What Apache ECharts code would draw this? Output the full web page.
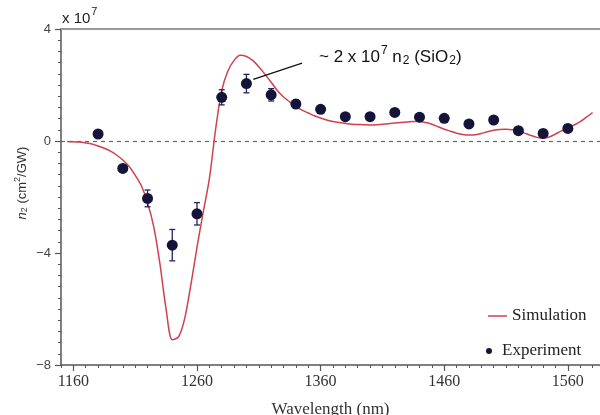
<!DOCTYPE html>
<html>
<head>
<meta charset="utf-8">
<script src="https://cdn.jsdelivr.net/npm/echarts@6/dist/echarts.min.js"></script>
<style>
html,body{margin:0;padding:0;background:#fff;}
#chart{width:600px;height:415px;}
</style>
</head>
<body>
<div id="chart"></div>
<script>
// ---- data ----
var simWavelength = [1155,1160,1165,1170,1175,1180,1185,1190,1195,1200,1205,1210,1215,1220,1225,1230,1235,1240,1245,1250,1255,1260,1265,1270,1275,1280,1285,1290,1295,1300,1305,1310,1315,1320,1325,1330,1335,1340,1345,1350,1355,1360,1365,1370,1375,1380,1385,1390,1395,1400,1405,1410,1415,1420,1425,1430,1435,1440,1445,1450,1455,1460,1465,1470,1475,1480,1485,1490,1495,1500,1505,1510,1515,1520,1525,1530,1535,1540,1545,1550,1555,1560,1565,1570,1575,1580];
var simN2 = [-0.02,-0.03,-0.04,-0.07,-0.11,-0.18,-0.26,-0.36,-0.5,-0.68,-0.9,-1.22,-1.6,-2.2,-3.06,-4.38,-6.0,-7.1,-7.0,-6.35,-5.15,-3.8,-2.55,-1.35,0.4,1.8,2.5,2.88,3.06,3.02,2.88,2.65,2.38,2.1,1.8,1.57,1.4,1.24,1.1,1.0,0.9,0.82,0.75,0.7,0.66,0.63,0.6,0.59,0.58,0.57,0.58,0.6,0.62,0.64,0.66,0.68,0.7,0.7,0.66,0.6,0.51,0.42,0.35,0.28,0.23,0.21,0.22,0.27,0.33,0.38,0.41,0.42,0.4,0.35,0.28,0.2,0.13,0.1,0.14,0.25,0.36,0.46,0.57,0.69,0.85,1.01];
var expWavelength = [1180,1200,1220,1240,1260,1280,1300,1320,1340,1360,1380,1400,1420,1440,1460,1480,1500,1520,1540,1560];
var expN2 = [0.25,-0.98,-2.05,-3.72,-2.6,1.56,2.05,1.65,1.32,1.13,0.87,0.87,1.02,0.85,0.81,0.61,0.75,0.37,0.27,0.45];
var expErr = [0,0,0.3,0.56,0.4,0.27,0.33,0.22,0.15,0,0,0,0,0,0,0,0,0,0,0];
var xTickLabels = [1160,1260,1360,1460,1560];
var yTickLabels = [-8,-4,0,4];

var X_MIN = 1150, X_MAX = 1586;

var simData = simWavelength.map(function(x,i){return [x, simN2[i]];});
var expData = expWavelength.map(function(x,i){return [x, expN2[i]];});
var errData = [];
expWavelength.forEach(function(x,i){ if(expErr[i]>0) errData.push([x, expN2[i]-expErr[i], expN2[i]+expErr[i]]); });

var chart = echarts.init(document.getElementById('chart'), null, {renderer:'canvas'});
var axisCol = '#555';
var serif = '"Liberation Serif","Times New Roman",serif';
var sans = '"Liberation Sans",Arial,sans-serif';

var option = {
  animation: false,
  backgroundColor: '#fff',
  grid: {left: 61, right: 0, top: 29, bottom: 50, outerBoundsMode: 'none', containLabel: false},
  xAxis: [
    {
      type: 'value', min: X_MIN, max: X_MAX, position: 'bottom',
      axisLine: {show: true, onZero: false, lineStyle: {color: axisCol, width: 1.5}},
      axisTick: {show: true, customValues: xTickLabels, length: 6, lineStyle: {color: axisCol, width: 1.2}},
      axisLabel: {customValues: xTickLabels, fontFamily: serif, fontSize: 16, color: '#333', margin: 9,
        formatter: function(v){ return String(v); }},
      splitLine: {show: false},
      name: 'Wavelength (nm)', nameLocation: 'middle', nameGap: 36,
      nameTextStyle: {fontFamily: serif, fontSize: 17, color: '#333'}
    },
    {
      type: 'value', min: X_MIN, max: X_MAX, interval: 10, position: 'bottom',
      axisLine: {show: false, onZero: false},
      axisTick: {show: true, length: 3, lineStyle: {color: axisCol, width: 1}},
      axisLabel: {show: false},
      splitLine: {show: false}
    },
    {
      type: 'value', min: X_MIN, max: X_MAX, position: 'top',
      axisLine: {show: true, onZero: false, lineStyle: {color: '#999', width: 2}},
      axisTick: {show: false}, axisLabel: {show: false}, splitLine: {show: false}
    }
  ],
  yAxis: {
    type: 'value', min: yTickLabels[0], max: yTickLabels[yTickLabels.length-1], interval: 4,
    axisLine: {show: true, onZero: false, lineStyle: {color: axisCol, width: 1.5}},
    axisTick: {show: true, length: 6, lineStyle: {color: axisCol, width: 1.2}},
    minorTick: {show: true, splitNumber: 10, length: 3, lineStyle: {color: axisCol, width: 1}},
    axisLabel: {fontFamily: sans, fontSize: 13, color: '#444', margin: 10,
      formatter: function(v){ return String(v).replace('-', '\u2212'); }},
    splitLine: {show: false}
  },
  legend: [
    {
      data: [{name: 'Simulation', icon: 'rect'}], left: 483, top: 301, itemWidth: 19, itemHeight: 1.5,
      textStyle: {fontFamily: serif, fontSize: 17, color: '#222', lineHeight: 20}
    },
    {
      data: [{name: 'Experiment', icon: 'circle'}], left: 481, top: 336, itemWidth: 16, itemHeight: 6,
      textStyle: {fontFamily: serif, fontSize: 17, color: '#222', lineHeight: 20}
    }
  ],
  series: [
    {
      name: 'Simulation', type: 'line', data: simData, smooth: 0.3,
      symbol: 'none', color: '#d0404e',
      lineStyle: {color: '#d0404e', width: 1.5},
      z: 3,
      markLine: {
        silent: true, symbol: ['none','none'], label: {show: false},
        lineStyle: {color: '#666', type: [4,4], width: 1.2},
        data: [{yAxis: 0}]
      }
    },
    {
      name: 'ErrorBars', type: 'custom', data: errData, z: 4,
      renderItem: function(params, api){
        var x = api.value(0);
        var p1 = api.coord([x, api.value(1)]);
        var p2 = api.coord([x, api.value(2)]);
        var w = 3, st = {stroke: '#23235e', lineWidth: 1.3};
        return {type: 'group', children: [
          {type: 'line', shape: {x1: p1[0], y1: p1[1], x2: p2[0], y2: p2[1]}, style: st},
          {type: 'line', shape: {x1: p1[0]-w, y1: p1[1], x2: p1[0]+w, y2: p1[1]}, style: st},
          {type: 'line', shape: {x1: p2[0]-w, y1: p2[1], x2: p2[0]+w, y2: p2[1]}, style: st}
        ]};
      }
    },
    {
      name: 'Experiment', type: 'scatter', data: expData, symbol: 'circle', symbolSize: 11,
      color: '#14143a', itemStyle: {color: '#14143a', opacity: 1}, z: 5,
      markLine: {
        silent: true, symbol: ['none','none'], label: {show: false},
        lineStyle: {color: '#111', type: 'solid', width: 1.3},
        data: [[{coord: [1305.5, 2.2]}, {coord: [1345, 2.78]}]]
      }
    }
  ],
  graphic: [
    {
      type: 'text', left: 62, top: 6,
      style: {
        text: '{a|x 10}{s|7}', 
        rich: {
          a: {fontFamily: sans, fontSize: 15, fill: '#222', verticalAlign: 'bottom', lineHeight: 20},
          s: {fontFamily: sans, fontSize: 11, fill: '#222', verticalAlign: 'top', lineHeight: 20, padding: [0,0,10,1]}
        }
      }
    },
    {
      type: 'text', left: 319, top: 45,
      style: {
        text: '{a|~ 2 x 10}{s|7}{a| n}{b|2}{a| (SiO}{b|2}{a|)}',
        rich: {
          a: {fontFamily: sans, fontSize: 17, fill: '#111', lineHeight: 22},
          s: {fontFamily: sans, fontSize: 12, fill: '#111', lineHeight: 22, padding: [0,0,12,1]},
          b: {fontFamily: sans, fontSize: 12, fill: '#111', lineHeight: 22, padding: [8,0,0,1]}
        }
      }
    },
    {
      type: 'text', x: 22, y: 183, rotation: Math.PI/2,
      style: {
        text: '{i|n}{b|2}{a| (cm}{s|2}{a|/GW)}',
        align: 'center', verticalAlign: 'middle',
        rich: {
          a: {fontFamily: sans, fontSize: 13, fill: '#333', lineHeight: 18},
          i: {fontFamily: sans, fontSize: 13, fontStyle: 'italic', fill: '#333', lineHeight: 18},
          s: {fontFamily: sans, fontSize: 9, fill: '#333', lineHeight: 18, padding: [0,0,8,0]},
          b: {fontFamily: sans, fontSize: 9, fill: '#333', lineHeight: 18, padding: [6,0,0,0]}
        }
      }
    }
  ]
};
chart.setOption(option);
</script>
</body>
</html>
